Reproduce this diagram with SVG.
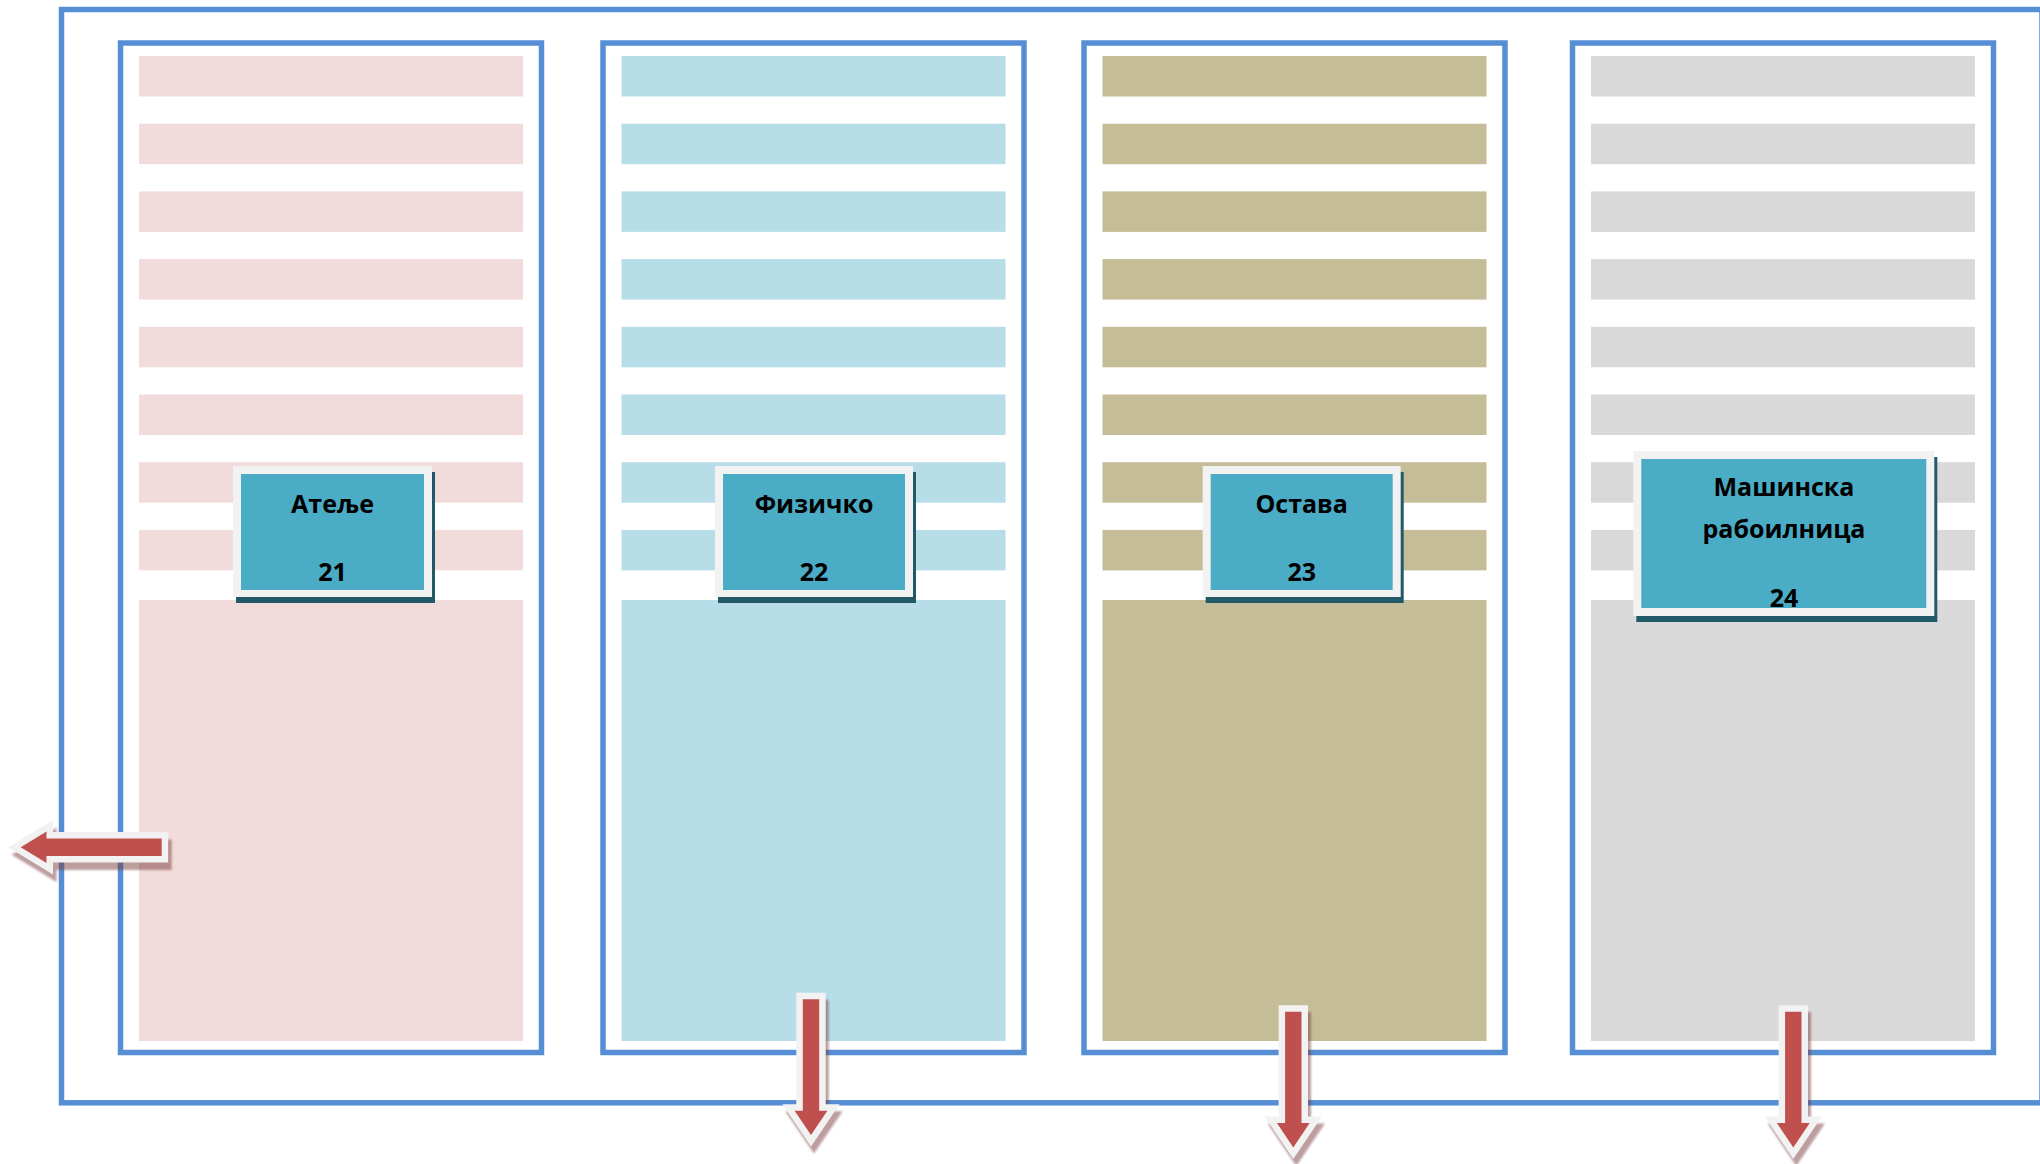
<svg xmlns="http://www.w3.org/2000/svg" width="2040" height="1164" viewBox="0 0 2040 1164">
<defs>
<style>
.frame{fill:none;stroke:#558ED5;stroke-width:5.5}
.pink{fill:#F2DCDB}
.blue{fill:#B7DEE8}
.tan{fill:#C4BD97}
.gray{fill:#D9D9D9}
.lblsh{fill:#215968}
.lblout{fill:#F2F2F2}
.lblin{fill:#4BACC6}
.t{font-family:"Open Sans","Noto Sans","DejaVu Sans",sans-serif;font-weight:700;font-size:25px;fill:#000;text-anchor:middle}
.arr{fill:#C0504D;stroke:#F2F2F2;stroke-width:13;stroke-linejoin:miter;stroke-miterlimit:6;paint-order:stroke fill}
.ash{fill:#7A3B3B;stroke:#7A3B3B;stroke-width:13;stroke-linejoin:miter;stroke-miterlimit:6}
</style>
<filter id="blur" x="-20%" y="-20%" width="140%" height="140%"><feGaussianBlur stdDeviation="1"/></filter>
<g id="bars">
<rect x="0" y="56" width="384" height="40.5"/>
<rect x="0" y="123.7" width="384" height="40.5"/>
<rect x="0" y="191.4" width="384" height="40.5"/>
<rect x="0" y="259.1" width="384" height="40.5"/>
<rect x="0" y="326.8" width="384" height="40.5"/>
<rect x="0" y="394.5" width="384" height="40.5"/>
<rect x="0" y="462.2" width="384" height="40.5"/>
<rect x="0" y="529.9" width="384" height="40.5"/>
<rect x="0" y="600" width="384" height="441"/>
</g>
<path id="downArrow" d="M-8.2,0 H8.2 V111.4 H16.4 L0,135.7 L-16.4,111.4 H-8.2 Z"/>
</defs>
<rect width="2040" height="1164" fill="#FFFFFF"/>
<rect id="outer-frame" class="frame" x="61.5" y="9.5" width="1980.5" height="1093.3"/>

<g id="col-21">
<rect class="frame" x="120.5" y="43" width="421" height="1009.5"/>
<use href="#bars" class="pink" x="139"/>
<g id="node-21">
<rect class="lblsh" x="236" y="472" width="199" height="131"/>
<rect class="lblout" x="233" y="466" width="199" height="131"/>
<rect class="lblin" x="241" y="474" width="183" height="116"/>
<text class="t" x="332.5" y="513">Атеље</text>
<text class="t" x="332.5" y="581">21</text>
</g>
</g>

<g id="col-22">
<rect class="frame" x="603" y="43" width="421" height="1009.5"/>
<use href="#bars" class="blue" x="621.5"/>
<g id="node-22">
<rect class="lblsh" x="718" y="472" width="198" height="131"/>
<rect class="lblout" x="715" y="466" width="198" height="131"/>
<rect class="lblin" x="723" y="474" width="182" height="116"/>
<text class="t" x="814" y="513">Физичко</text>
<text class="t" x="814" y="581">22</text>
</g>
</g>

<g id="col-23">
<rect class="frame" x="1084" y="43" width="421" height="1009.5"/>
<use href="#bars" class="tan" x="1102.5"/>
<g id="node-23">
<rect class="lblsh" x="1205.7" y="472" width="198" height="131"/>
<rect class="lblout" x="1202.7" y="466" width="198" height="131"/>
<rect class="lblin" x="1210.7" y="474" width="182" height="116"/>
<text class="t" x="1301.7" y="513">Остава</text>
<text class="t" x="1301.7" y="581">23</text>
</g>
</g>

<g id="col-24">
<rect class="frame" x="1572.5" y="43" width="421" height="1009.5"/>
<use href="#bars" class="gray" x="1591"/>
<g id="node-24">
<rect class="lblsh" x="1636.3" y="457" width="301" height="165"/>
<rect class="lblout" x="1633.3" y="451" width="301" height="165"/>
<rect class="lblin" x="1641.3" y="459" width="285" height="149"/>
<text class="t" x="1784" y="496">Машинска</text>
<text class="t" x="1784" y="538">рабоилница</text>
<text class="t" x="1784" y="607">24</text>
</g>
</g>

<g id="connectors">
<g opacity="0.5" filter="url(#blur)">
<path class="ash" transform="translate(3.5,7.5)" d="M20.7,847.3 L46.5,831.5 L46.5,838.5 L161.7,838.5 L161.7,856 L46.5,856 L46.5,863 Z"/>
<use href="#downArrow" class="ash" transform="translate(814,1006.3)"/>
<use href="#downArrow" class="ash" transform="translate(1296.3,1018.7)"/>
<use href="#downArrow" class="ash" transform="translate(1796.3,1018.7)"/>
</g>
<path class="arr" d="M20.7,847.3 L46.5,831.5 L46.5,838.5 L161.7,838.5 L161.7,856 L46.5,856 L46.5,863 Z"/>
<use href="#downArrow" class="arr" transform="translate(811,999.3)"/>
<use href="#downArrow" class="arr" transform="translate(1293.3,1011.7)"/>
<use href="#downArrow" class="arr" transform="translate(1793.3,1011.7)"/>
</g>
</svg>
